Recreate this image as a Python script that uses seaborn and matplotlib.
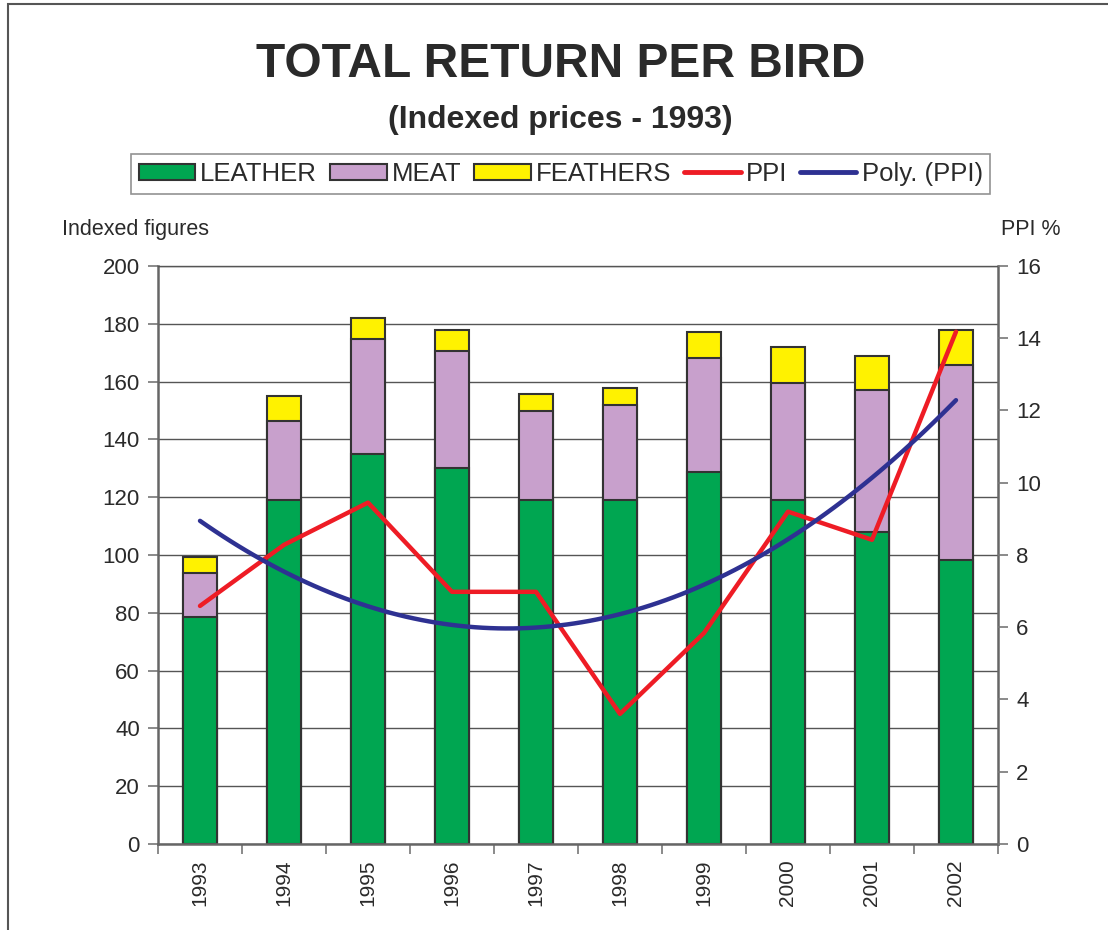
import numpy as np
import matplotlib
matplotlib.use("Agg")
import matplotlib.pyplot as plt
import seaborn as sns
from matplotlib.patches import Patch, Rectangle
from matplotlib.lines import Line2D
from matplotlib.ticker import FixedLocator

# Data
years = ["1993", "1994", "1995", "1996", "1997", "1998", "1999", "2000", "2001", "2002"]
leather = [78.5, 119, 135, 130, 119, 119, 128.7, 119, 108, 98.3]
meat = [15.3, 27.4, 39.7, 40.6, 30.8, 32.9, 39.5, 40.5, 49, 67.4]
feathers = [5.5, 8.6, 7.3, 7.3, 5.9, 5.9, 9.0, 12.5, 11.9, 12.2]
ppi = [6.59, 8.28, 9.45, 6.98, 6.98, 3.6, 5.84, 9.2, 8.42, 14.18]

green = "#00A651"
lilac = "#C8A0CC"
yellow = "#FFF200"
red = "#EE1C25"
blue = "#2E3192"
edge = "#333333"
txt = "#2a2a2a"

sns.set_style("white")
plt.rcParams['font.family'] = ['Liberation Sans', 'DejaVu Sans']

lm = np.array(leather) + np.array(meat)
total = lm + np.array(feathers)

fig = plt.figure(figsize=(11.08, 9.3), dpi=100)
ax = fig.add_axes([0.1426, 0.0925, 0.7581, 0.6215])

# stacked bars drawn as overlapping cumulative heights
sns.barplot(x=years, y=total, color=yellow, width=0.4, edgecolor=edge, linewidth=1.5, ax=ax, saturation=1)
sns.barplot(x=years, y=lm, color=lilac, width=0.4, edgecolor=edge, linewidth=1.5, ax=ax, saturation=1)
sns.barplot(x=years, y=leather, color=green, width=0.4, edgecolor=edge, linewidth=1.5, ax=ax, saturation=1)

ax.set_ylim(0, 200)
ax.set_xlim(-0.5, 9.5)
ax.set_yticks(range(0, 201, 20))
ax.yaxis.grid(True, color="#555555", linewidth=1.0)
ax.set_axisbelow(True)
ax.set_ylabel("")
ax.tick_params(axis="y", labelsize=16, labelcolor=txt, length=7, color="#777777", width=1.2, pad=6)
ax.tick_params(axis="x", which="major", labelsize=15, labelcolor=txt, length=0, pad=11)
ax.xaxis.set_minor_locator(FixedLocator(np.arange(-0.5, 10, 1)))
ax.tick_params(axis="x", which="minor", length=7, color="#777777", width=1.2, bottom=True)
for lab in ax.get_xticklabels():
    lab.set_rotation(90)
for s in ["left", "bottom", "right", "top"]:
    ax.spines[s].set_color("#666666")
    ax.spines[s].set_linewidth(1.8)
ax.spines["top"].set_color("#555555")
ax.spines["top"].set_linewidth(1.0)

# PPI on secondary axis
ax2 = ax.twinx()
xpos = np.arange(len(years))
sns.lineplot(x=xpos, y=ppi, color=red, linewidth=3.2, ax=ax2)
sns.regplot(x=xpos, y=np.array(ppi), order=2, ci=None, scatter=False,
            line_kws={"color": blue, "linewidth": 3.2}, ax=ax2)
ax2.set_ylim(0, 16)
ax2.set_yticks(range(0, 17, 2))
ax2.set_ylabel("")
ax2.set_xlim(-0.5, 9.5)
ax2.tick_params(axis="y", labelsize=16, labelcolor=txt, length=7, color="#777777", width=1.2, pad=6)
for s in ["left", "bottom", "right", "top"]:
    ax2.spines[s].set_visible(False)

# titles and axis captions
fig.text(0.506, 0.931, "TOTAL RETURN PER BIRD", ha="center", va="center",
         fontsize=34.5, fontweight="bold", color=txt)
fig.text(0.506, 0.871, "(Indexed prices - 1993)", ha="center", va="center",
         fontsize=23, fontweight="bold", color=txt)
fig.text(0.056, 0.753, "Indexed figures", ha="left", va="center", fontsize=15.5, color=txt)
fig.text(0.903, 0.753, "PPI %", ha="left", va="center", fontsize=15.5, color=txt)

handles = [
    Patch(facecolor=green, edgecolor=edge, linewidth=1.5, label="LEATHER"),
    Patch(facecolor=lilac, edgecolor=edge, linewidth=1.5, label="MEAT"),
    Patch(facecolor=yellow, edgecolor=edge, linewidth=1.5, label="FEATHERS"),
    Line2D([], [], color=red, linewidth=3.5, label="PPI"),
    Line2D([], [], color=blue, linewidth=3.5, label="Poly. (PPI)"),
]
leg = fig.legend(handles=handles, loc="center", bbox_to_anchor=(0.506, 0.813), ncol=5,
                 fontsize=18.5, frameon=True, fancybox=False, handlelength=2.2,
                 handleheight=0.55, handletextpad=0.2, columnspacing=0.5,
                 borderpad=0.3, labelcolor=txt)
leg.get_frame().set_edgecolor("#777777")
leg.get_frame().set_linewidth(1.2)

# outer frame
fig.patches.append(Rectangle((0.0072, -0.02), 1.05, 1.0157, transform=fig.transFigure,
                             fill=False, edgecolor="#555555", linewidth=1.5))

fig.savefig("out.png", dpi=100)
